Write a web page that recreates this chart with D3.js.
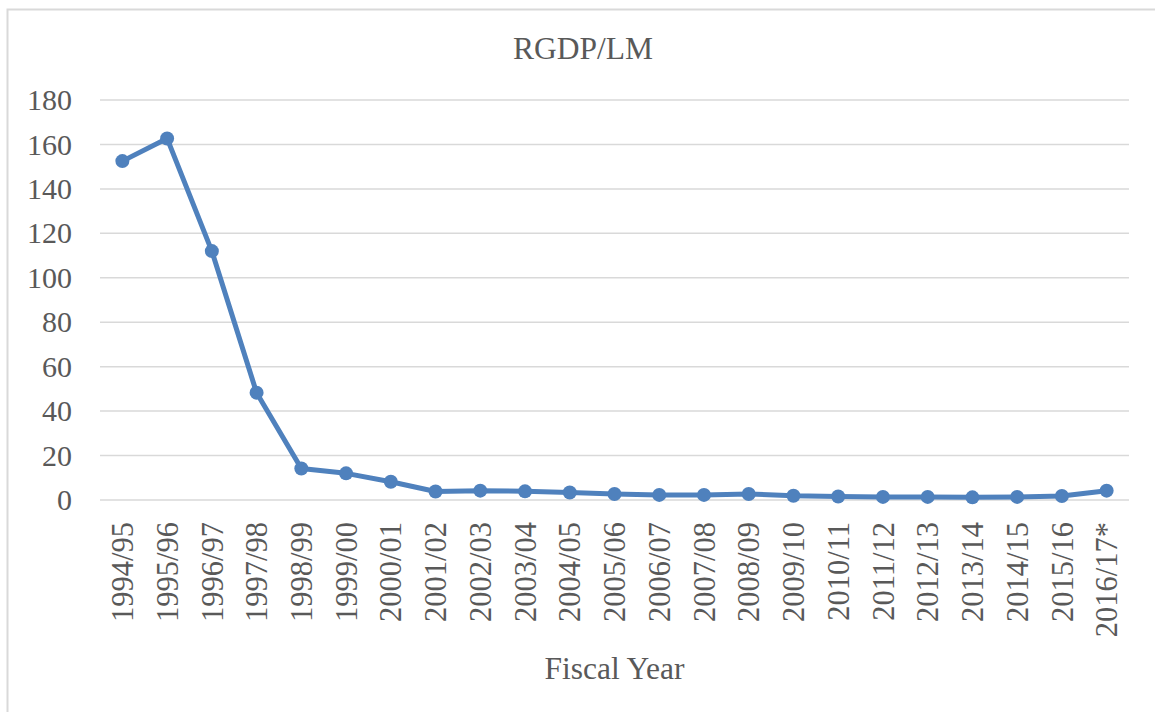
<!DOCTYPE html>
<html>
<head>
<meta charset="utf-8">
<script src="https://cdn.jsdelivr.net/npm/d3@7"></script>
<style>
  html, body { margin: 0; padding: 0; background: #fff; }
  svg { display: block; }
  text { fill: #595959; font-family: 'Liberation Serif', 'Times New Roman', serif; }
</style>
</head>
<body>
<svg id="chart" width="1155" height="712"></svg>
<script>
// Fiscal years on the horizontal axis
const fiscalYears = [
  "1994/95", "1995/96", "1996/97", "1997/98", "1998/99", "1999/00",
  "2000/01", "2001/02", "2002/03", "2003/04", "2004/05", "2005/06",
  "2006/07", "2007/08", "2008/09", "2009/10", "2010/11", "2011/12",
  "2012/13", "2013/14", "2014/15", "2015/16", "2016/17*"
];

// RGDP/LM ratio per fiscal year
const rgdpLm = [
  152.5, 162.7, 112.0, 48.3, 14.2, 12.0,
  8.2, 3.8, 4.2, 3.9, 3.4, 2.7,
  2.3, 2.3, 2.7, 1.9, 1.6, 1.4,
  1.4, 1.2, 1.4, 1.8, 4.2
];

const yTicks = [0, 20, 40, 60, 80, 100, 120, 140, 160, 180];

const svg = d3.select("#chart");
const W = 1155, H = 712;
const plot = { left: 100, right: 1129, top: 100, bottom: 500 };

// Outer chart frame (runs off the right and bottom edges)
svg.append("rect")
  .attr("x", 7.5).attr("y", 9.5)
  .attr("width", W + 10).attr("height", H + 10)
  .attr("fill", "#fff")
  .attr("stroke", "#d9d9d9")
  .attr("stroke-width", 2);

const x = d3.scaleBand().domain(fiscalYears).range([plot.left, plot.right]);
const y = d3.scaleLinear().domain([0, 180]).range([plot.bottom, plot.top]);

// Horizontal gridlines
svg.append("g")
  .selectAll("line")
  .data(yTicks)
  .join("line")
  .attr("x1", plot.left).attr("x2", plot.right)
  .attr("y1", d => y(d)).attr("y2", d => y(d))
  .attr("stroke", "#d9d9d9")
  .attr("stroke-width", 1.5);

// Y axis labels
svg.append("g")
  .attr("transform", `translate(${plot.left},0)`)
  .call(d3.axisLeft(y).tickValues(yTicks).tickSize(0).tickPadding(28))
  .attr("font-family", null)
  .attr("font-size", 30)
  .call(g => g.select(".domain").remove())
  .call(g => g.selectAll("text").attr("fill", "#595959"));

// X axis labels, rotated to read bottom-to-top
svg.append("g")
  .attr("transform", `translate(0,${plot.bottom})`)
  .call(d3.axisBottom(x).tickSize(0).tickPadding(0))
  .attr("font-family", null)
  .attr("font-size", 30.5)
  .call(g => g.select(".domain").remove())
  .call(g => g.selectAll("text")
    .attr("fill", "#595959")
    .attr("text-anchor", "end")
    .attr("transform", "translate(0,22) rotate(-90)")
    .attr("x", 0).attr("y", 0)
    .attr("dy", "0.35em"));

// Series line and markers
const cx = d => x(d) + x.bandwidth() / 2;
svg.append("path")
  .datum(rgdpLm)
  .attr("d", d3.line().x((d, i) => cx(fiscalYears[i])).y(d => y(d)))
  .attr("fill", "none")
  .attr("stroke", "#4f81bd")
  .attr("stroke-width", 5)
  .attr("stroke-linejoin", "round")
  .attr("stroke-linecap", "round");

svg.append("g")
  .selectAll("circle")
  .data(rgdpLm)
  .join("circle")
  .attr("cx", (d, i) => cx(fiscalYears[i]))
  .attr("cy", d => y(d))
  .attr("r", 7)
  .attr("fill", "#4f81bd");

// Chart title
svg.append("text")
  .attr("x", 583).attr("y", 59)
  .attr("text-anchor", "middle")
  .attr("font-size", 31.5)
  .text("RGDP/LM");

// Axis title
svg.append("text")
  .attr("x", (plot.left + plot.right) / 2).attr("y", 679)
  .attr("text-anchor", "middle")
  .attr("font-size", 31.5)
  .text("Fiscal Year");
</script>
</body>
</html>
